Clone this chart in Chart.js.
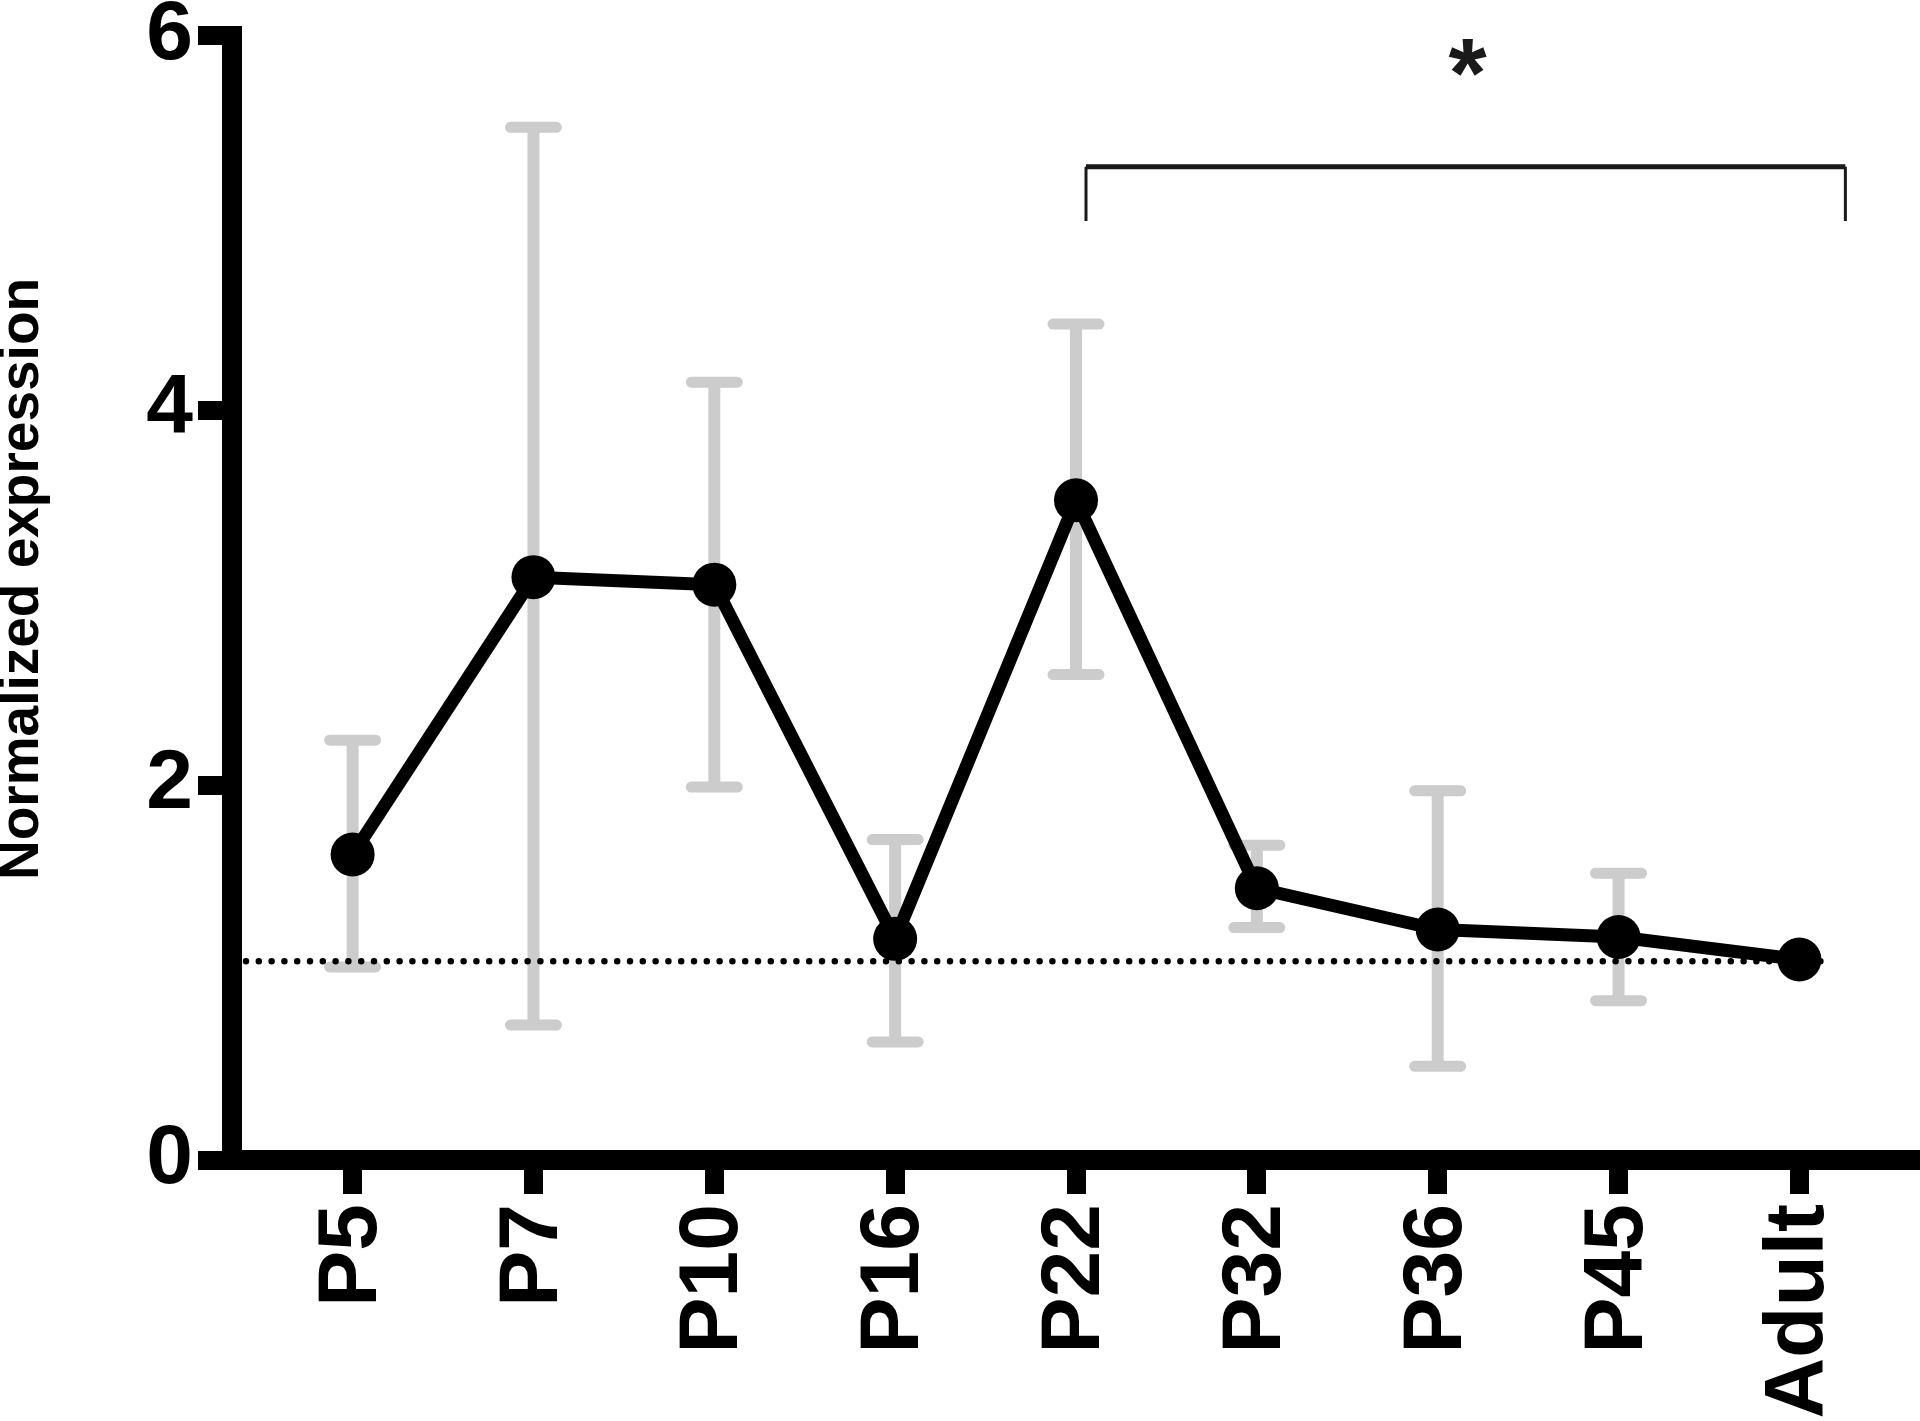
<!DOCTYPE html>
<html><head><meta charset="utf-8">
<script src="https://cdn.jsdelivr.net/npm/chart.js@4.4.0/dist/chart.umd.min.js"></script>
<style>html,body{margin:0;padding:0;background:#fff;overflow:hidden;} canvas{display:block;}</style>
</head><body>
<canvas id="c" width="1920" height="1421"></canvas>
<script>
// ---- data ----
const categories = ['P5', 'P7', 'P10', 'P16', 'P22', 'P32', 'P36', 'P45', 'Adult'];
const meanValues = [1.63, 3.11, 3.07, 1.18, 3.52, 1.45, 1.23, 1.19, 1.07];
const errorUpper = [2.24, 5.51, 4.15, 1.71, 4.46, 1.68, 1.97, 1.53, null];
const errorLower = [1.03, 0.72, 1.99, 0.63, 2.59, 1.24, 0.50, 0.85, null];
const yTickValues = [0, 2, 4, 6];
const referenceLevel = 1.06;
const yAxisTitle = 'Normalized expression';
const sigFrom = 4;      // P22
const sigTo = 8;        // Adult
const sigLevel = 5.3;
const sigDrop = 0.29;
const sigLabel = '*';

const FONT = "'Liberation Sans', Arial, Helvetica, sans-serif";

const overlay = {
  id: 'overlay',
  beforeDatasetsDraw(chart) {
    const {ctx, chartArea} = chart;
    const x = chart.scales.x, y = chart.scales.y;
    ctx.save();
    ctx.strokeStyle = '#cccccc';
    categories.forEach((c, i) => {
      if (errorUpper[i] == null) return;
      const px = x.getPixelForValue(i);
      const yt = y.getPixelForValue(errorUpper[i]);
      const yb = y.getPixelForValue(errorLower[i]);
      ctx.lineWidth = 12; ctx.lineCap = 'butt';
      ctx.beginPath(); ctx.moveTo(px, yt); ctx.lineTo(px, yb); ctx.stroke();
      ctx.lineWidth = 11; ctx.lineCap = 'round';
      ctx.beginPath();
      ctx.moveTo(px - 23, yt); ctx.lineTo(px + 23, yt);
      ctx.moveTo(px - 23, yb); ctx.lineTo(px + 23, yb);
      ctx.stroke();
    });
    // dotted reference line
    ctx.strokeStyle = '#000';
    ctx.lineWidth = 6.5;
    ctx.lineCap = 'round';
    ctx.setLineDash([0, 12.8]);
    const ry = y.getPixelForValue(referenceLevel);
    ctx.beginPath();
    ctx.moveTo(chartArea.left + 14, ry);
    ctx.lineTo(x.getPixelForValue(8.14), ry);
    ctx.stroke();
    ctx.restore();
  },
  afterDraw(chart) {
    const {ctx} = chart;
    const x = chart.scales.x, y = chart.scales.y;
    ctx.save();
    // y axis title
    ctx.fillStyle = '#000';
    ctx.font = 'bold 55px ' + FONT;
    ctx.textAlign = 'center';
    ctx.textBaseline = 'middle';
    ctx.translate(23, y.getPixelForValue(3.1));
    ctx.rotate(-Math.PI / 2);
    ctx.fillText(yAxisTitle, 0, 0);
    ctx.restore();

    // significance bracket
    const l = x.getPixelForValue(sigFrom) + 10;
    const r = x.getPixelForValue(sigTo) + 46;
    const yt = y.getPixelForValue(sigLevel);
    const yb = y.getPixelForValue(sigLevel - sigDrop);
    ctx.save();
    ctx.strokeStyle = '#1a1a1a';
    ctx.lineCap = 'butt';
    ctx.lineWidth = 3;
    ctx.beginPath();
    ctx.moveTo(l, yt); ctx.lineTo(l, yb);
    ctx.moveTo(r, yt); ctx.lineTo(r, yb);
    ctx.stroke();
    ctx.lineWidth = 5;
    ctx.beginPath(); ctx.moveTo(l, yt); ctx.lineTo(r, yt); ctx.stroke();
    ctx.fillStyle = '#1a1a1a';
    ctx.font = 'bold 98px ' + FONT;
    ctx.textAlign = 'center';
    ctx.textBaseline = 'alphabetic';
    ctx.fillText(sigLabel, (l + r) / 2 + 2, yt - 60);
    ctx.restore();
  }
};

new Chart(document.getElementById('c'), {
  type: 'line',
  data: {
    datasets: [{
      data: meanValues.map((v, i) => ({x: i, y: v})),
      borderColor: '#000',
      borderWidth: 13,
      borderJoinStyle: 'round',
      pointRadius: 22,
      pointHoverRadius: 22,
      pointBackgroundColor: '#000',
      pointBorderWidth: 0,
      tension: 0,
      clip: false
    }]
  },
  options: {
    responsive: false,
    animation: false,
    devicePixelRatio: 1,
    layout: {autoPadding: false, padding: {top: 35.5, left: 0, right: 0, bottom: 0}},
    plugins: {legend: {display: false}, tooltip: {enabled: false}},
    scales: {
      x: {
        type: 'linear',
        min: -0.667,
        max: 8.667,
        afterBuildTicks: s => { s.ticks = categories.map((c, i) => ({value: i})); },
        afterFit: s => { s.height = 261; s.paddingLeft = 0; s.paddingRight = 0; },
        ticks: {
          autoSkip: false,
          minRotation: 90,
          maxRotation: 90,
          padding: 10,
          color: '#000',
          font: {family: FONT, size: 84, weight: 'bold', lineHeight: 1},
          callback: v => categories[Math.round(v)]
        },
        grid: {drawOnChartArea: false, drawTicks: true, tickLength: 34, tickWidth: 19, tickColor: '#000'},
        border: {display: true, width: 20, color: '#000'}
      },
      y: {
        min: 0,
        max: 6,
        afterBuildTicks: s => { s.ticks = yTickValues.map(v => ({value: v})); },
        afterFit: s => { s.width = 232; s.paddingTop = 0; s.paddingBottom = 0; },
        ticks: {
          padding: 5,
          color: '#000',
          font: {family: FONT, size: 84, weight: 'bold', lineHeight: 1}
        },
        grid: {drawOnChartArea: false, drawTicks: true, tickLength: 34, tickWidth: 19, tickColor: '#000'},
        border: {display: true, width: 20, color: '#000'}
      }
    }
  },
  plugins: [overlay]
});
</script>
</body></html>
